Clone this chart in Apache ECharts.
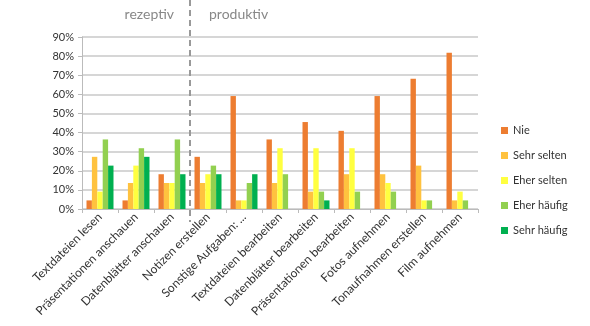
<!DOCTYPE html>
<html>
<head>
<meta charset="utf-8">
<script src="https://cdn.jsdelivr.net/npm/echarts@6/dist/echarts.min.js"></script>
<style>
  html, body { margin: 0; padding: 0; background: #fff; }
  #chart { width: 590px; height: 326px; }
</style>
</head>
<body>
<div id="chart"></div>
<script>
// Activities (first three are receptive, the rest productive)
const categories = [
  'Textdateien lesen', 'Präsentationen anschauen', 'Datenblätter anschauen',
  'Notizen erstellen', 'Sonstige Aufgaben: ...', 'Textdateien bearbeiten',
  'Datenblätter bearbeiten', 'Präsentationen bearbeiten', 'Fotos aufnehmen',
  'Tonaufnahmen erstellen', 'Film aufnehmen'
];

// Share of answers per frequency level (%)
const nie         = [4.5, 4.5, 18.2, 27.3, 59.1, 36.4, 45.5, 40.9, 59.1, 68.2, 81.8];
const sehrSelten  = [27.3, 13.6, 13.6, 13.6, 4.5, 13.6, 9.1, 18.2, 18.2, 22.7, 4.5];
const eherSelten  = [9.1, 22.7, 13.6, 18.2, 4.5, 31.8, 31.8, 31.8, 13.6, 4.5, 9.1];
const eherHaeufig = [36.4, 31.8, 36.4, 22.7, 13.6, 18.2, 9.1, 9.1, 9.1, 4.5, 4.5];
const sehrHaeufig = [22.7, 27.3, 18.2, 18.2, 18.2, 0, 4.5, 0, 0, 0, 0];

const seriesNames = ['Nie', 'Sehr selten', 'Eher selten', 'Eher häufig', 'Sehr häufig'];
const seriesData = [nie, sehrSelten, eherSelten, eherHaeufig, sehrHaeufig];
const colors = ['#ED7D31', '#FFC23F', '#FFFF40', '#92D050', '#00B050'];

const yTicks = [0, 10, 20, 30, 40, 50, 60, 70, 80, 90];

const FONT = 'Lato, "Open Sans", sans-serif';

const chart = echarts.init(document.getElementById('chart'));

chart.setOption({
  animation: false,
  color: colors,
  textStyle: { fontFamily: FONT },
  grid: { left: 82, right: 112, top: 37, bottom: 117, containLabel: false },
  legend: {
    orient: 'vertical',
    left: 496,
    top: 120,
    itemWidth: 7,
    itemHeight: 7,
    itemGap: 14,
    icon: 'rect',
    textStyle: { fontSize: 11, color: '#333', fontFamily: FONT },
    data: seriesNames
  },
  xAxis: {
    type: 'category',
    data: categories,
    axisLine: { lineStyle: { color: '#bbb' } },
    axisTick: { show: true, length: 4, lineStyle: { color: '#bbb' } },
    axisLabel: {
      rotate: 45,
      interval: 0,
      fontSize: 12,
      color: '#333',
      margin: 6,
      fontFamily: FONT
    }
  },
  yAxis: {
    type: 'value',
    min: 0,
    max: yTicks[yTicks.length - 1],
    interval: 10,
    axisLine: { show: true, lineStyle: { color: '#bbb' } },
    axisTick: { show: true, length: 4, lineStyle: { color: '#bbb' } },
    splitLine: { lineStyle: { color: '#c8c8c8', width: 1.5 } },
    axisLabel: {
      fontSize: 11,
      color: '#333',
      margin: 8,
      fontFamily: FONT,
      formatter: v => v + '%'
    }
  },
  series: seriesNames.map((name, i) => ({
    name,
    type: 'bar',
    data: seriesData[i],
    barGap: '0%',
    barCategoryGap: '25%'
  }))
});

// Separator between receptive and productive groups, with captions
function drawDivider() {
  const x = (chart.convertToPixel({ xAxisIndex: 0 }, 2) + chart.convertToPixel({ xAxisIndex: 0 }, 3)) / 2;
  chart.setOption({
    graphic: [
      {
        type: 'line',
        shape: { x1: x, y1: 0, x2: x, y2: 222 },
        style: { stroke: '#999', lineWidth: 2, lineDash: [6, 4] },
        z: 100
      },
      {
        type: 'text',
        x: x - 16, y: 14,
        style: {
          text: 'rezeptiv', fill: '#888', fontSize: 14, fontFamily: FONT,
          textAlign: 'right', textVerticalAlign: 'middle'
        }
      },
      {
        type: 'text',
        x: x + 19, y: 14,
        style: {
          text: 'produktiv', fill: '#888', fontSize: 14, fontFamily: FONT,
          textAlign: 'left', textVerticalAlign: 'middle'
        }
      }
    ]
  });
}
drawDivider();
</script>
</body>
</html>
